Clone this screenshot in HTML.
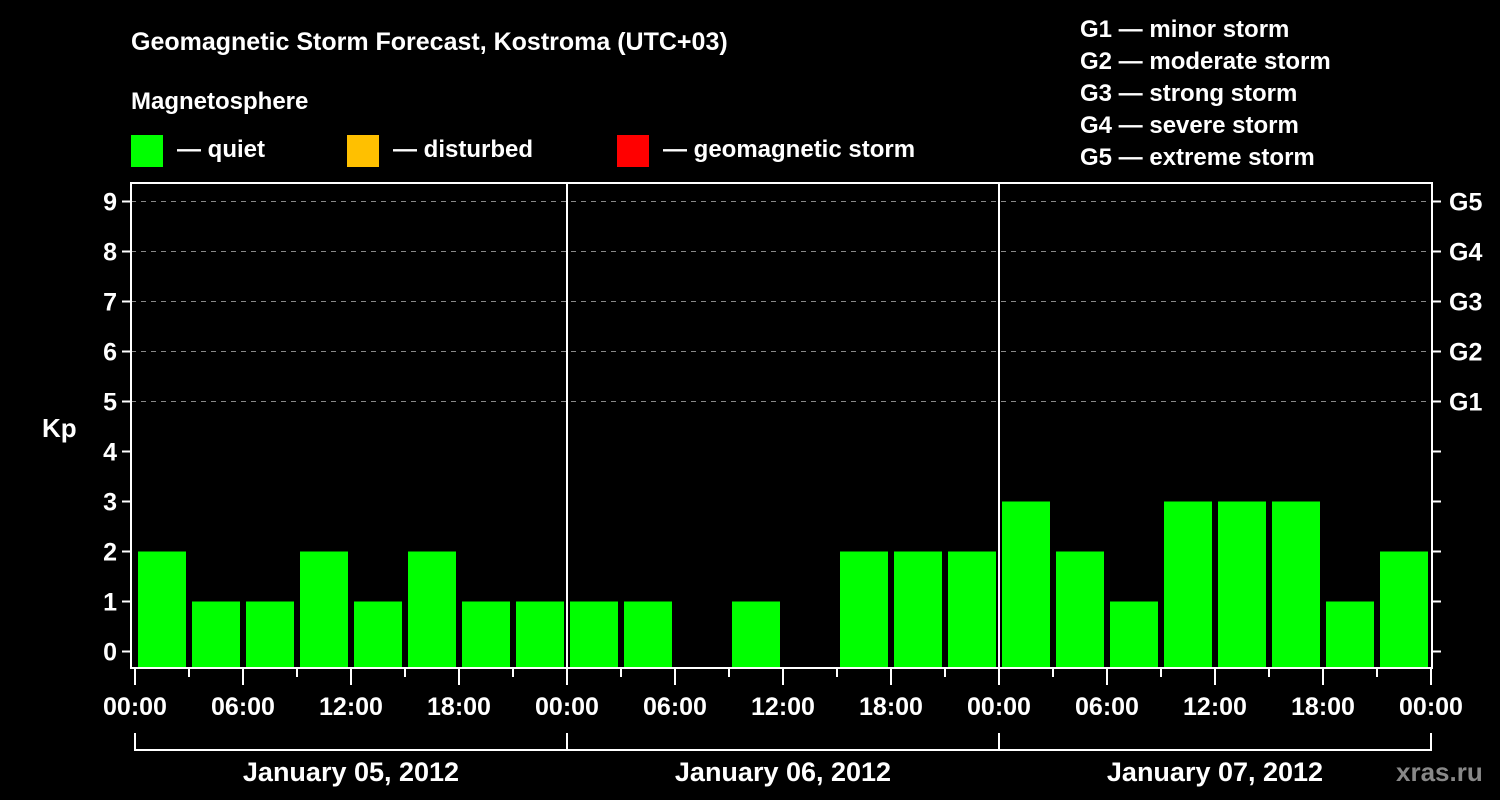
<!DOCTYPE html>
<html><head><meta charset="utf-8"><style>
html,body{margin:0;padding:0;background:#000;}
svg{display:block;font-family:"Liberation Sans",Arial,sans-serif;font-weight:bold;}
</style></head><body>
<svg id="chart" width="1500" height="800" viewBox="0 0 1500 800">
<rect x="0" y="0" width="1500" height="800" fill="#000"/>
<text x="131" y="50" fill="#fff" font-size="25">Geomagnetic Storm Forecast, Kostroma (UTC+03)</text>
<text x="131" y="109" fill="#fff" font-size="24">Magnetosphere</text>
<g><rect x="131" y="135" width="32" height="32" fill="#00ff00"/><text x="177" y="157" fill="#fff" font-size="24">— quiet</text></g>
<g><rect x="347" y="135" width="32" height="32" fill="#ffc000"/><text x="393" y="157" fill="#fff" font-size="24">— disturbed</text></g>
<g><rect x="617" y="135" width="32" height="32" fill="#ff0000"/><text x="663" y="157" fill="#fff" font-size="24">— geomagnetic storm</text></g>
<g fill="#fff" font-size="24">
<text x="1080" y="37">G1 — minor storm</text>
<text x="1080" y="69">G2 — moderate storm</text>
<text x="1080" y="101">G3 — strong storm</text>
<text x="1080" y="133">G4 — severe storm</text>
<text x="1080" y="165">G5 — extreme storm</text>
</g>
<text x="42" y="437" fill="#fff" font-size="26">Kp</text>
<text x="1396" y="781" fill="#888" font-size="26">xras.ru</text>
<g id="plot"></g>
</svg>
<script>
const dayLabels = ["January 05, 2012","January 06, 2012","January 07, 2012"];
const kpValues = [2,1,1,2,1,2,1,1, 1,1,0,1,0,2,2,2, 3,2,1,3,3,3,1,2];
const yTicks = [0,1,2,3,4,5,6,7,8,9];
const gLabels = ["G1","G2","G3","G4","G5"];
const gLevels = [5,6,7,8,9];
const timeLabels = ["00:00","06:00","12:00","18:00"];

const NS="http://www.w3.org/2000/svg";
const plot=document.getElementById('plot');
const X0=135, HOUR=18, Y0=651.5, UNIT=50;
const L=131, R=1432, T=183, B=668;
const xs=h=>X0+h*HOUR;
const ys=v=>Y0-v*UNIT;
function mk(tag,attrs,parent){const e=document.createElementNS(NS,tag);for(const k in attrs)e.setAttribute(k,attrs[k]);(parent||plot).appendChild(e);return e;}

// gridlines
gLevels.forEach(v=>{
  const l=mk('line',{x1:L,x2:R,y1:ys(v),y2:ys(v),stroke:'#888','stroke-width':1,'stroke-dasharray':'5,5'});
  
  
});
// bars
kpValues.forEach((v,i)=>{
  if(v<=0)return;
  const x=xs(i*3)+3, w=3*HOUR-6;
  const r=mk('rect',{x:x,y:ys(v),width:w,height:B-ys(v),fill:'#00ff00'});
  
  
});
// day separators
for(let d=1;d<dayLabels.length;d++){
  const l=mk('line',{x1:xs(d*24),x2:xs(d*24),y1:T,y2:B,stroke:'#fff','stroke-width':2});
  
  
}
// frame
const fr=mk('rect',{x:L,y:T,width:R-L,height:B-T,fill:'none',stroke:'#fff','stroke-width':2});


// y ticks
yTicks.forEach(v=>{
  mk('line',{x1:L-9,x2:L,y1:ys(v),y2:ys(v),stroke:'#fff','stroke-width':2});
  mk('line',{x1:R,x2:R+9,y1:ys(v),y2:ys(v),stroke:'#fff','stroke-width':2});
  const t=mk('text',{x:L-14,y:ys(v)+9,fill:'#fff','font-size':25,'text-anchor':'end'});
  t.textContent=v;
  
  
});
gLabels.forEach((g,i)=>{
  const t=mk('text',{x:R+17,y:ys(gLevels[i])+9,fill:'#fff','font-size':25});
  t.textContent=g;
  
  
});
// x ticks
const total=dayLabels.length*24;
for(let h=0;h<=total;h+=3){
  const major=h%6===0;
  mk('line',{x1:xs(h),x2:xs(h),y1:B,y2:B+(major?17:9),stroke:'#fff','stroke-width':2});
  if(major){
    const t=mk('text',{x:xs(h),y:715,fill:'#fff','font-size':25,'text-anchor':'middle'});
    t.textContent=timeLabels[(h/6)%4];
    
    
  }
}
// day brackets
dayLabels.forEach((d,i)=>{
  const a=xs(i*24), b=xs((i+1)*24);
  mk('line',{x1:a,x2:b,y1:750,y2:750,stroke:'#fff','stroke-width':2});
  mk('line',{x1:a,x2:a,y1:733,y2:751,stroke:'#fff','stroke-width':2});
  mk('line',{x1:b,x2:b,y1:733,y2:751,stroke:'#fff','stroke-width':2});
  const t=mk('text',{x:(a+b)/2,y:781,fill:'#fff','font-size':27,'text-anchor':'middle'});
  t.textContent=d;
  
  
});
</script>
</body></html>
